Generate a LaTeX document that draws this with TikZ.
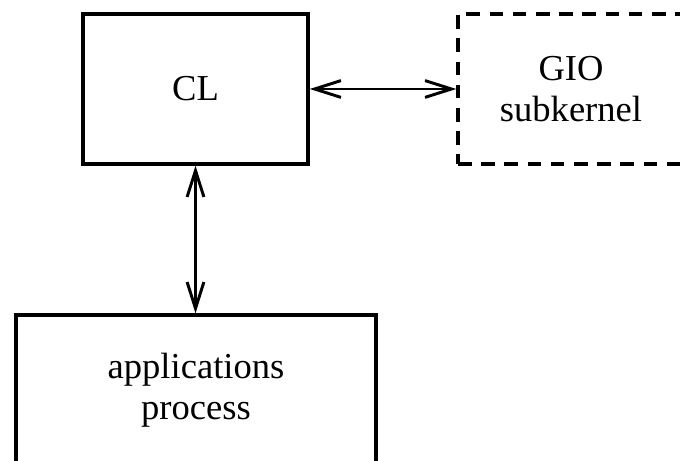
\documentclass[tikz,border=0pt]{standalone}
\usepackage{fontspec}
\setmainfont{Liberation Serif}
\usetikzlibrary{arrows.meta}

\tikzset{
  block/.style={draw, line width=2.4pt, minimum width=5.625cm, minimum height=3.75cm,
    align=center, font=\fontsize{26}{29.5}\selectfont},
  subblock/.style={block, dashed, dash pattern=on 0.34cm off 0.24cm},
  link/.style={line width=2.1pt, {Straight Barb[length=0.66cm,width=0.42cm]}-{Straight Barb[length=0.66cm,width=0.42cm]}}
}

\begin{document}
\begin{tikzpicture}
	% Frame
	\useasboundingbox (0,0) rectangle (17,11.525);
	\clip (0,0) rectangle (17,11.525);
	
	% Blocks
	\node[block] (cl) at (4.8875,9.3) {CL};
	\node[subblock, minimum width=5.65cm] (gio) at (14.275,9.3) {GIO\\subkernel};
	\node[block, minimum width=9cm] (apps) at (4.9,1.775) {applications\\process};
	
	% Links
	\draw[link] (cl.east) -- (gio.west);
	\draw[link] (cl.south) -- (cl.south |- apps.north);
\end{tikzpicture}
\end{document}
